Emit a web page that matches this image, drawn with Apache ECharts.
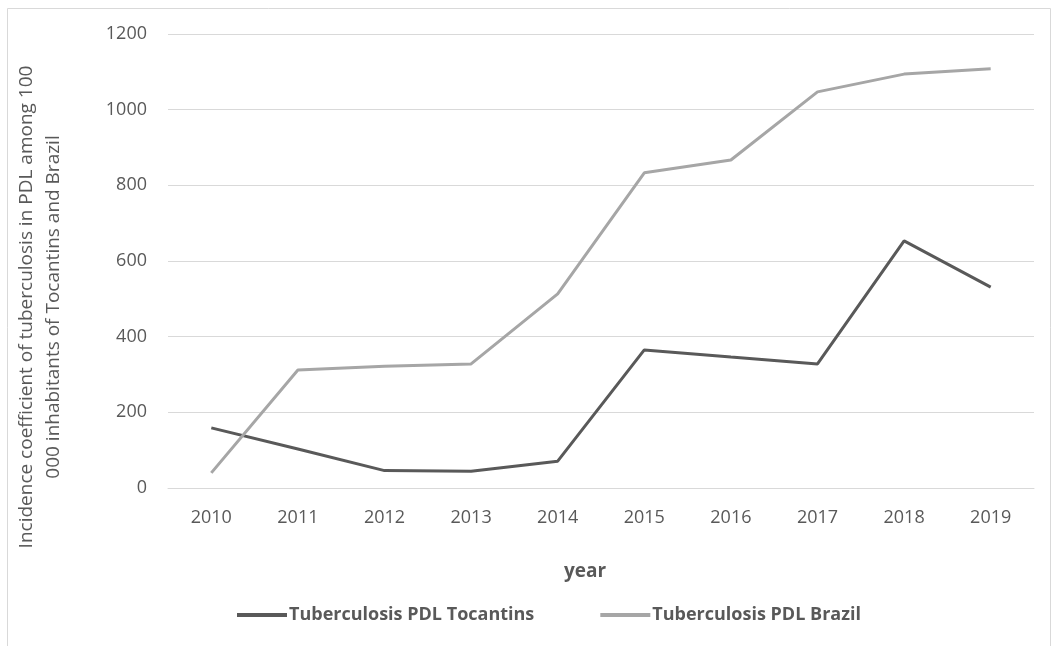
<!DOCTYPE html>
<html>
<head>
<meta charset="utf-8">
<script src="https://cdn.jsdelivr.net/npm/echarts@6/dist/echarts.min.js"></script>
<style>html,body{margin:0;padding:0;background:#fff}#c{width:1054px;height:646px}</style>
</head>
<body>
<div id="c"></div>
<script>
const years = ['2010','2011','2012','2013','2014','2015','2016','2017','2018','2019'];
const tocantins = [159, 103, 46, 44, 71, 365, 346, 328, 653, 531];
const brazil = [40, 312, 322, 328, 513, 833, 867, 1047, 1094, 1108];
const yTicks = [0, 200, 400, 600, 800, 1000, 1200];
const yTitle = 'Incidence coefficient of tuberculosis in PDL among 100\n000 inhabitants of Tocantins and Brazil';
const xTitle = 'year';
const seriesNames = ['Tuberculosis PDL Tocantins', 'Tuberculosis PDL Brazil'];

const font = '"Open Sans", "Liberation Sans", sans-serif';
const chart = echarts.init(document.getElementById('c'), null, {renderer: 'canvas'});
chart.setOption({
  animation: false,
  backgroundColor: '#fff',
  grid: {left: 168, right: 20, top: 34, bottom: 158, containLabel: false},
  graphic: [
    {type: 'rect', shape: {x: 7.5, y: 8.5, width: 1043, height: 660}, style: {fill: 'none', stroke: '#d9d9d9', lineWidth: 1}},
    {type: 'text', x: 40, y: 307, rotation: Math.PI / 2,
     style: {text: yTitle, font: '19px ' + font, fill: '#595959', align: 'center', verticalAlign: 'middle', lineHeight: 27}},
    {type: 'text', x: 585, y: 572,
     style: {text: xTitle, font: 'bold 19px ' + font, fill: '#595959', align: 'center', verticalAlign: 'middle'}}
  ],
  legend: {
    top: 601, left: 232,
    itemWidth: 50, itemHeight: 4, itemGap: 66,
    icon: 'rect',
    textStyle: {color: '#595959', fontSize: 18, fontWeight: 'bold', fontFamily: font, padding: [0, 0, 0, -3]},
    data: seriesNames
  },
  xAxis: {
    type: 'category', data: years, boundaryGap: true,
    axisLine: {show: true, lineStyle: {color: '#d9d9d9', width: 1}},
    axisTick: {show: false},
    axisLabel: {color: '#595959', fontSize: 18, fontFamily: font, margin: 21}
  },
  yAxis: {
    type: 'value', min: 0, max: 1200, interval: 200,
    axisLine: {show: false}, axisTick: {show: false},
    axisLabel: {color: '#595959', fontSize: 18, fontFamily: font, margin: 21,
      formatter: v => yTicks.includes(v) ? String(v) : ''},
    splitLine: {lineStyle: {color: '#d9d9d9', width: 1}}
  },
  series: [
    {name: seriesNames[0], type: 'line', data: tocantins, showSymbol: false, symbol: 'none',
     lineStyle: {color: '#595959', width: 3}, itemStyle: {color: '#595959'}},
    {name: seriesNames[1], type: 'line', data: brazil, showSymbol: false, symbol: 'none',
     lineStyle: {color: '#a6a6a6', width: 3}, itemStyle: {color: '#a6a6a6'}}
  ]
});
</script>
</body>
</html>
